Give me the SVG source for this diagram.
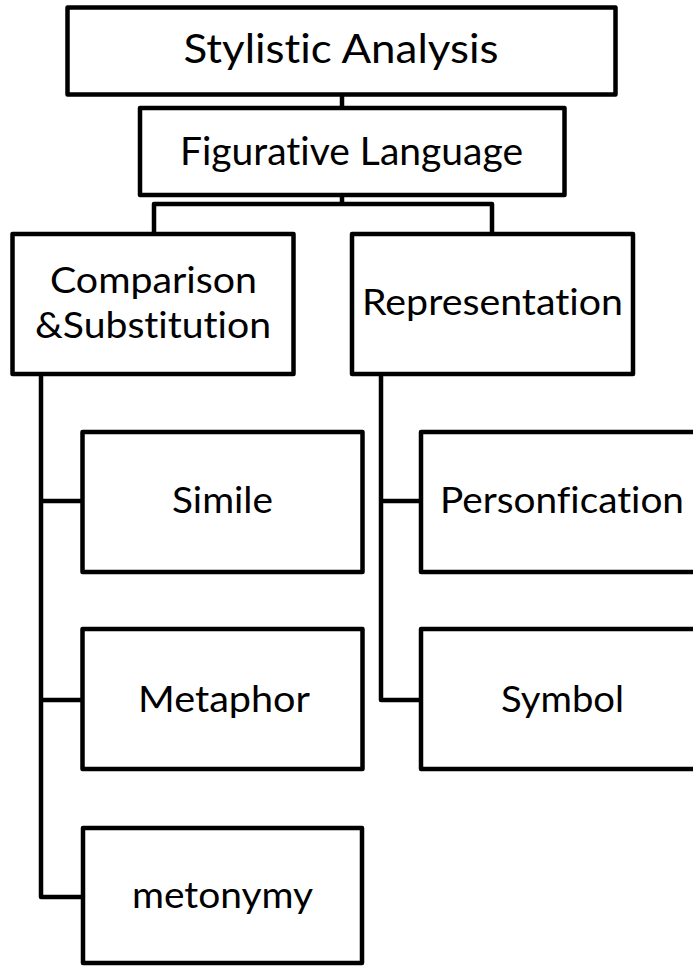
<svg xmlns="http://www.w3.org/2000/svg" width="693" height="967" viewBox="0 0 693 967">
<style>
.box{fill:#fff;stroke:#000;stroke-width:4.5;stroke-linejoin:round}
.c{fill:none;stroke:#000;stroke-width:4.5;stroke-linejoin:round}
text{font-family:Lato,"Liberation Sans",sans-serif;font-weight:400;font-variant-ligatures:none;fill:#000;text-anchor:middle}
.t{font-size:37px}
.f{font-size:39px}
.h{font-size:41px}
</style>
<rect width="693" height="967" fill="#fff"/>
<g id="connectors">
<path class="c" d="M342 94V108"/>
<path class="c" d="M342 195V204M154 233V204H492V233"/>
<path class="c" d="M41 374V897H83M41 501H82M41 700H82"/>
<path class="c" d="M381 374V700H421M381 501H421"/>
</g>
<g id="stylistic"><rect class="box" x="67.5" y="7.5" width="548" height="87"/><text class="h" x="341" y="63" textLength="315" lengthAdjust="spacingAndGlyphs">Stylistic Analysis</text></g>
<g id="figurative"><rect class="box" x="140" y="108" width="424.5" height="87"/><text class="f" x="351.5" y="165" textLength="343" lengthAdjust="spacingAndGlyphs">Figurative Language</text></g>
<g id="comparison"><rect class="box" x="12.5" y="234" width="281" height="140"/><text class="t" x="153.5" y="293" textLength="207" lengthAdjust="spacingAndGlyphs">Comparison</text><text class="t" x="153" y="338" textLength="236" lengthAdjust="spacingAndGlyphs">&amp;Substitution</text></g>
<g id="representation"><rect class="box" x="352" y="234" width="281" height="140"/><text class="t" x="492.5" y="315" textLength="261" lengthAdjust="spacingAndGlyphs">Representation</text></g>
<g id="simile"><rect class="box" x="82.5" y="432" width="280" height="140"/><text class="t" x="222.5" y="513" textLength="101" lengthAdjust="spacingAndGlyphs">Simile</text></g>
<g id="personfication"><rect class="box" x="421" y="432" width="282" height="140"/><text class="t" x="562" y="513" textLength="244" lengthAdjust="spacingAndGlyphs">Personfication</text></g>
<g id="metaphor"><rect class="box" x="82.5" y="629" width="280" height="140"/><text class="t" x="224" y="712" textLength="172" lengthAdjust="spacingAndGlyphs">Metaphor</text></g>
<g id="symbol"><rect class="box" x="421" y="629" width="282" height="140"/><text class="t" x="562.5" y="712" textLength="123" lengthAdjust="spacingAndGlyphs">Symbol</text></g>
<g id="metonymy"><rect class="box" x="83" y="828" width="279" height="135"/><text class="t" x="222.5" y="908" textLength="181" lengthAdjust="spacingAndGlyphs">metonymy</text></g>
</svg>
